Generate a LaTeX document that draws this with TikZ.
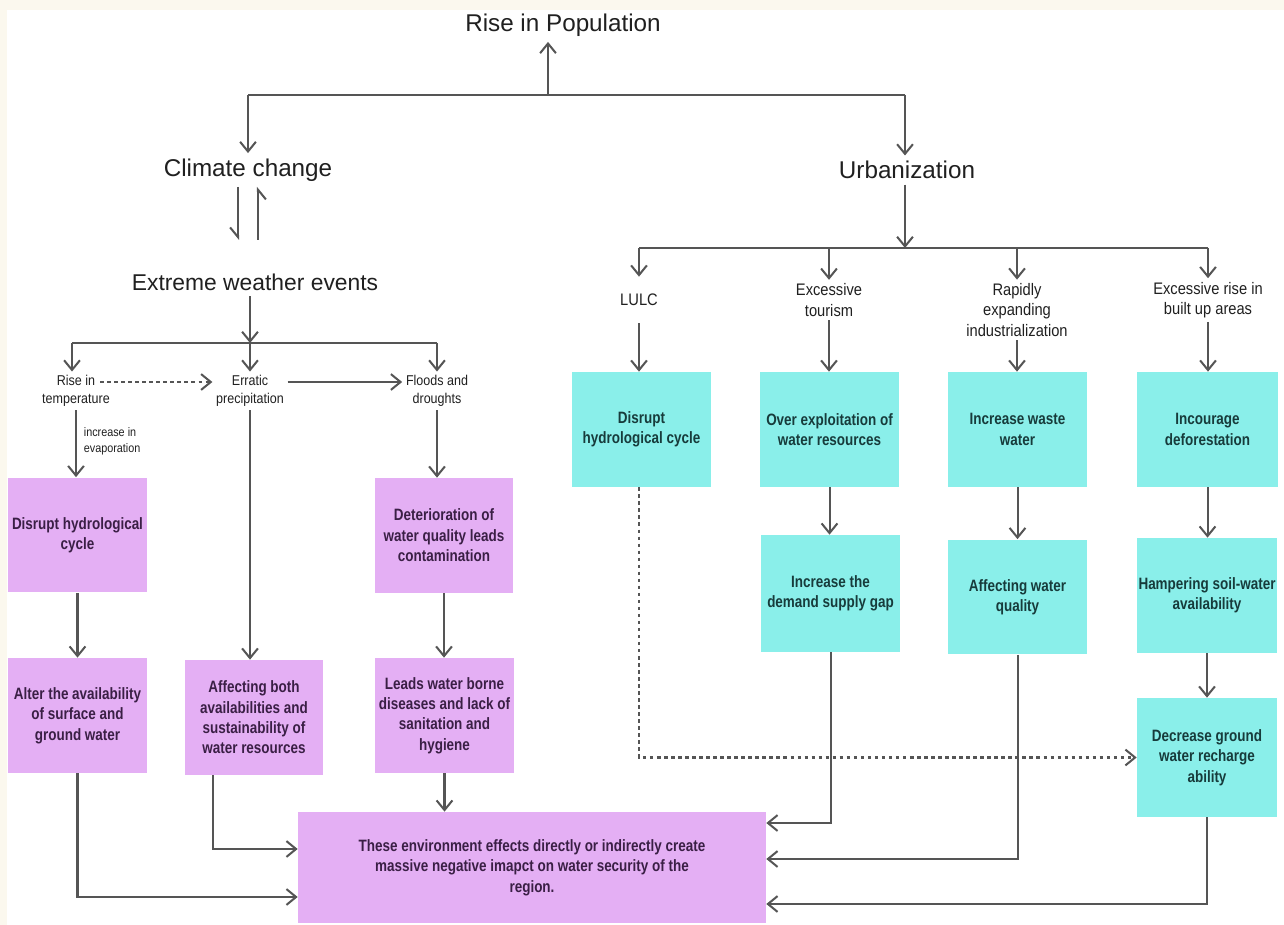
\documentclass[tikz,border=0pt]{standalone}
\usepackage{fontspec}
\setmainfont{Liberation Sans}
\newfontfamily\boxfont{Liberation Sans}[FakeStretch=0.82]
\newfontfamily\lblfont{Liberation Sans}[FakeStretch=0.88]
\usetikzlibrary{arrows.meta}
\definecolor{pinkbox}{HTML}{E4AFF4}
\definecolor{cyanbox}{HTML}{8AEFEA}
\definecolor{ln}{HTML}{555555}
\definecolor{cream}{HTML}{FBF8EE}
\definecolor{ptext}{HTML}{3A1F45}
\definecolor{ctext}{HTML}{173B3B}
\definecolor{tx}{HTML}{202020}
\begin{document}
\begin{tikzpicture}[x=0.02cm,y=-0.02cm,
  title/.style={font=\fontsize{13.8}{16}\selectfont, text=tx, inner sep=3pt},
  lblL/.style={font=\lblfont\fontsize{8.1}{10.2}\selectfont, align=center, text=tx, inner sep=2pt},
  lblR/.style={font=\lblfont\fontsize{9.5}{11.6}\selectfont, align=center, text=tx, inner sep=2pt},
  pbox/.style={fill=pinkbox, draw=none, minimum width=2.78cm, minimum height=2.3cm, align=center,
    font=\boxfont\bfseries\fontsize{9.35}{11.6}\selectfont, text=ptext, inner sep=0pt},
  cbox/.style={pbox, fill=cyanbox, text=ctext},
  conn/.style={draw=ln, line width=1.15pt},
  arr/.style={conn, -{Straight Barb[length=5.5pt,width=9pt]}},
  harpL/.style={conn, -{Straight Barb[harpoon,swap,length=5.5pt,width=9pt]}},
  dotarr/.style={arr, dash pattern=on 2pt off 2pt}
]
\fill[cream] (0,0) rectangle (1284,925);
\fill[white] (7,10) rectangle (1284,925);
\useasboundingbox (0,0) rectangle (1284,925);

% titles
\node[title] (rp) at (563,25) {Rise in Population};
\node[title] (cc) at (248,170) {Climate change};
\node[title] (ur) at (907,170) {Urbanization};
\node[title, font=\fontsize{13}{15}\selectfont] (ew) at (255,282) {Extreme weather events};

\coordinate (j0) at (548,95);
\coordinate (tl) at (248,95);
\coordinate (tr) at (905,95);
\draw[conn, line width=1.5pt] (tl) -- (tr);
\draw[arr] (j0) -- (j0 |- rp.south);
\draw[arr] (tl) -- (cc.north);
\draw[arr] (tr) -- (tr |- ur.north);

% climate <-> extreme
\coordinate (h2) at (258,240);
\draw[harpL] ([xshift=-0.2cm]cc.south) -- ++(0,53);
\draw[harpL] (h2) -- (h2 |- cc.south);

% extreme tree
\coordinate (eh) at (250,343);
\coordinate (hl) at (72,343);
\coordinate (hr) at (437,343);
\draw[arr] (ew.south -| eh) -- (eh);
\draw[conn] (hl) -- (hr);
\node[lblL] (rt) at (76,391) {Rise in\\temperature};
\node[lblL] (ep) at (250,391) {Erratic\\precipitation};
\node[lblL] (fd) at (437,391) {Floods and\\droughts};
\draw[arr] (hl) -- (hl |- rt.north);
\draw[arr] (eh) -- (ep.north);
\draw[arr] (hr) -- (fd.north);
\draw[dotarr] ([xshift=-0.27cm,yshift=0.18cm]rt.east) -- ([yshift=0.18cm]ep.west);
\draw[arr] ([yshift=0.18cm]ep.east) -- ([yshift=0.18cm]fd.west);
\node[lblL, font=\lblfont\fontsize{7}{9}\selectfont, anchor=west, align=left] (ev) at (80,441) {increase in\\evaporation};

% pink boxes
\node[pbox] (p1) at (77.5,535) {Disrupt hydrological\\cycle};
\node[pbox] (p2) at (77.5,715.5) {Alter the availability\\of surface and\\ground water};
\node[pbox] (p3) at (254,717.5) {Affecting both\\availabilities and\\sustainability of\\water resources};
\node[pbox] (p4) at (444,535.5) {Deterioration of\\water quality leads\\contamination};
\node[pbox] (p5) at (444.5,715.5) {Leads water borne\\diseases and lack of\\sanitation and\\hygiene};
\node[pbox, minimum width=9.36cm, minimum height=2.22cm] (pb) at (532,867.5) {These environment effects directly or indirectly create\\massive negative imapct on water security of the\\region.};

\draw[arr] (rt.south) -- (rt.south |- p1.north);
\draw[arr] (ep.south) -- (ep.south |- p3.north);
\draw[arr] (fd.south) -- (fd.south |- p4.north);
\draw[arr] (p1.south) -- (p2.north);
\draw[arr] (p4.south) -- (p4.south |- p5.north);
\draw[arr] (p5.south) -- (p5.south |- pb.north);
\draw[arr] (p2.south) |- ([yshift=-0.59cm]pb.west);
\draw[arr] ([xshift=-0.82cm]p3.south) |- ([yshift=0.37cm]pb.west);

% urbanization tree
\coordinate (uh) at (905,248);
\coordinate (ul) at (639,248);
\coordinate (ub2) at (829,248);
\coordinate (ub3) at (1017,248);
\coordinate (ubr) at (1208,248);
\draw[arr] (ur.south -| uh) -- (uh);
\draw[conn, line width=1.7pt] (ul) -- (ubr);
\node[lblR, minimum height=0.92cm] (lulc) at (639,300) {LULC};
\node[lblR] (et) at (829,300) {Excessive\\tourism};
\node[lblR] (ri) at (1017,310) {Rapidly\\expanding\\industrialization};
\node[lblR] (eb) at (1208,300) {Excessive rise in\\built up areas};
\draw[arr] (ul) -- (ul |- lulc.north);
\draw[arr] (ub2) -- (ub2 |- et.north);
\draw[arr] (ub3) -- (ub3 |- ri.north);
\draw[arr] (ubr) -- (ubr |- eb.north);

% cyan boxes
\node[cbox] (cA) at (641.5,429.5) {Disrupt\\hydrological cycle};
\node[cbox] (cB) at (829.5,429.5) {Over exploitation of\\water resources};
\node[cbox] (cC) at (1017.5,429.5) {Increase waste\\water};
\node[cbox, minimum width=2.82cm] (cD) at (1207.5,429.5) {Incourage\\deforestation};
\node[cbox, minimum height=2.34cm] (cB2) at (830.5,593.5) {Increase the\\demand supply gap};
\node[cbox] (cC2) at (1017.5,597) {Affecting water\\quality};
\node[cbox, minimum width=2.8cm] (cD2) at (1207,595.5) {Hampering soil-water\\availability};
\node[cbox, minimum width=2.8cm, minimum height=2.38cm] (cD3) at (1207,757.5) {Decrease ground\\water recharge\\ability};

\draw[arr] (lulc.south) -- (lulc.south |- cA.north);
\draw[arr] (et.south) -- (et.south |- cB.north);
\draw[arr] (ri.south) -- (ri.south |- cC.north);
\draw[arr] (eb.south) -- (eb.south |- cD.north);
\draw[arr] (cB.south) -- (cB.south |- cB2.north);
\draw[arr] (cC.south) -- (cC.south |- cC2.north);
\draw[arr] (cD.south) -- (cD.south |- cD2.north);
\draw[arr] (cD2.south) -- (cD2.south |- cD3.north);
\draw[dotarr] ([xshift=-0.05cm]cA.south) |- (cD3.west);
\draw[arr] (cB2.south) |- ([yshift=0.89cm]pb.east);
\draw[arr] (cC2.south) |- ([yshift=0.17cm]pb.east);
\draw[arr] (cD3.south) |- ([yshift=-0.73cm]pb.east);
\end{tikzpicture}
\end{document}
